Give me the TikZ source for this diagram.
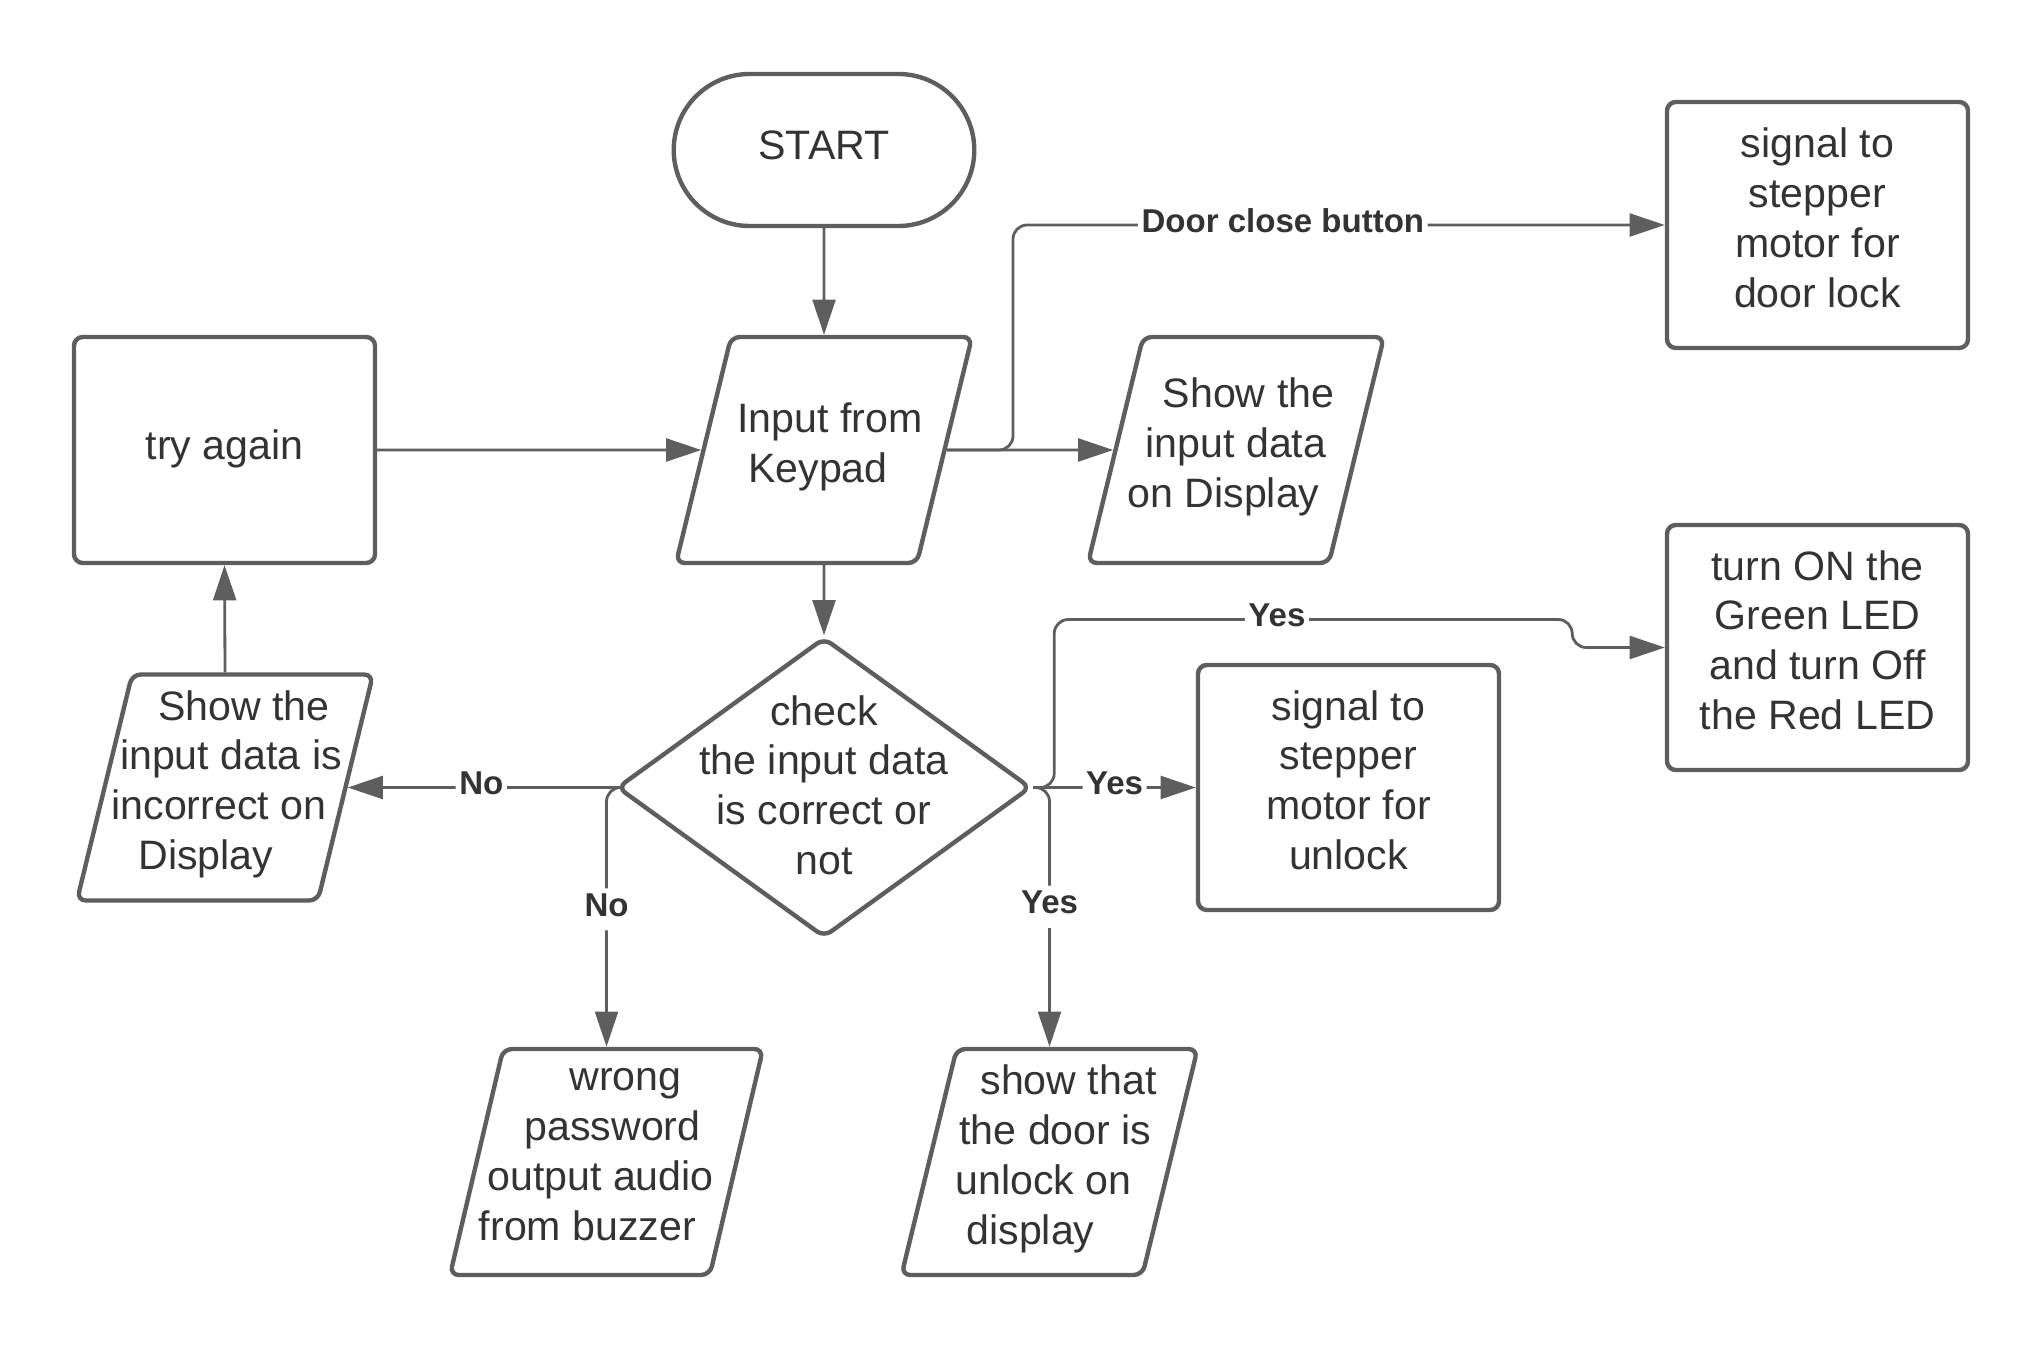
\documentclass[tikz,border=0pt]{standalone}
\usepackage{fontspec}
\setmainfont{Liberation Sans}
\usetikzlibrary{shapes.geometric,shapes.misc,arrows.meta}
\definecolor{lineg}{RGB}{94,94,94}
\definecolor{textg}{RGB}{51,51,51}

\begin{document}
\begin{tikzpicture}[
    every node/.style={text=textg, font=\fontsize{11.7}{14.2}\selectfont, align=center,
      execute at begin node=\strut, execute at end node=\strut},
    term/.style={draw=lineg, line width=1.25pt, rounded rectangle, minimum width=3.24cm, minimum height=1.52cm},
    procbox/.style={draw=lineg, line width=1.25pt, rectangle, rounded corners=2.5pt, minimum width=3.01cm},
    iobox/.style={draw=lineg, line width=1.25pt, trapezium, trapezium left angle=76, trapezium right angle=104,
      trapezium stretches body, inner xsep=-0.3cm, inner ysep=#1, minimum width=2.96cm, minimum height=2.26cm,
      rounded corners=2.5pt},
    iobox/.default=0.132cm,
    decision/.style={draw=lineg, line width=1.25pt, diamond, minimum width=4.14cm, minimum height=3.0cm,
      inner sep=0pt, rounded corners=2.5pt},
    conn/.style={draw=lineg, line width=0.8pt, rounded corners=4pt, -{Triangle[length=10pt, width=6.5pt]}},
    lab/.style={fill=white, inner sep=1pt, font=\bfseries\fontsize{9.4}{10}\selectfont},
  ]
  \useasboundingbox (0,0) rectangle (20.44,13.50);

  \node [term] (start) at (8.24,12.00) {START};
  \node [iobox=0.631cm] (input) at (8.24,9.00) {\hspace*{.12cm}Input from\\\hspace*{-.12cm}Keypad};
  \node [procbox, minimum height=2.26cm] (tryagain) at (2.245,9.00) {try again};
  \node [iobox=0.381cm] (show) at (12.36,9.00) {\hspace*{.25cm}Show the\\input data\\\hspace*{-.25cm}on Display};
  \node [procbox, minimum height=2.46cm] (doorlock) at (18.175,11.25) {signal to\\stepper\\motor for\\door lock};
  \node [decision, label={[yshift=-0.05cm]center:check\\the input data\\is correct or\\not}] (check) at (8.24,5.625) {};
  \node [iobox] (incorrect) at (2.25,5.625)
    {\hspace*{.38cm}Show the\\\hspace*{.12cm}input data is\\\hspace*{-.12cm}incorrect on\\\hspace*{-.38cm}Display};
  \node [procbox, minimum height=2.45cm] (unlock) at (13.485,5.625) {signal to\\stepper\\motor for\\unlock};
  \node [procbox, minimum height=2.45cm] (greenled) at (18.175,7.025) {turn ON the\\Green LED\\and turn Off\\the Red LED};
  \node [iobox, minimum width=3.13cm] (wrong) at (6.065,1.88)
    {\hspace*{.38cm}wrong\\\hspace*{.12cm}password\\\hspace*{-.12cm}output audio\\\hspace*{-.38cm}from buzzer};
  \node [iobox] (showthat) at (10.495,1.88)
    {\hspace*{.38cm}show that\\\hspace*{.12cm}the door is\\\hspace*{-.12cm}unlock on\\\hspace*{-.38cm}display};
  \coordinate (split) at (10.13,9.00);

  \draw [conn] (start) -- (input);
  \draw [conn] (tryagain) -- (input);
  \draw [conn] (input) -- (show);
  \draw [conn] (input) -- (split) |- node [lab, pos=0.707] {Door close button} (doorlock.west);
  \draw [conn] (input.south) -- (check.north);
  \draw [conn] (check.west) -- node [lab] {No} (incorrect);
  \draw [conn] (check.west) -| node [lab, pos=0.735] {No} (wrong.north);
  \draw [conn] (incorrect.north) -- (tryagain.south);
  \draw [conn] (check.east) -- node [lab] {Yes} (unlock.west);
  \draw [conn] (check.east) -| node [lab, pos=0.73] {Yes} (showthat.north);
  \draw [conn] (check.east) -| ++(0.21,1.68) -- node [lab, pos=0.43] {Yes} ++(5.18,0) |- (greenled.west);
\end{tikzpicture}
\end{document}
